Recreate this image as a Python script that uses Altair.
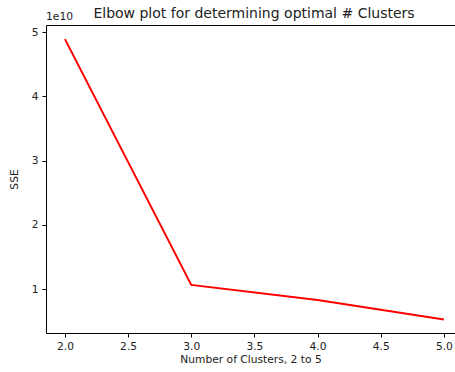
import altair as alt
import pandas as pd

clusters = [2, 3, 4, 5]
sse = [4.89e10, 1.065e10, 0.83e10, 0.525e10]

df = pd.DataFrame({"k": clusters, "sse": sse})

FONT = "DejaVu Sans"
FS = 10.7
xscale = alt.Scale(domain=[1.85, 5.088], nice=False, zero=False)
yscale = alt.Scale(domain=[0.316e10, 5.11e10], nice=False, zero=False)

base = alt.Chart(df)

line = base.mark_line(color="red", strokeWidth=2, clip=True).encode(
    x=alt.X("k:Q", scale=xscale,
            axis=alt.Axis(title="Number of Clusters, 2 to 5", values=[2, 2.5, 3, 3.5, 4, 4.5, 5],
                          format=".1f", grid=False, tickSize=4, tickColor="#000",
                          domainColor="#000", labelColor="#222", labelFontSize=FS,
                          titleFontSize=FS, titleFontWeight="normal", titleColor="#222",
                          labelPadding=4, titlePadding=4, labelFont=FONT, titleFont=FONT)),
    y=alt.Y("sse:Q", scale=yscale,
            axis=alt.Axis(title="SSE", values=[1e10, 2e10, 3e10, 4e10, 5e10],
                          labelExpr="datum.value / 1e10", grid=False, tickSize=4,
                          tickColor="#000", domainColor="#000", labelColor="#222",
                          labelFontSize=FS, titleFontSize=FS, titleFontWeight="normal",
                          titleColor="#222", labelPadding=4, titlePadding=12,
                          labelFont=FONT, titleFont=FONT)),
)

top = base.mark_point(opacity=0).encode(
    x=alt.X("k:Q", scale=xscale,
            axis=alt.Axis(orient="top", title=None, labels=False, ticks=False, grid=False,
                          domainColor="#000")),
)

exp = base.mark_text(text="1e10", align="left", baseline="bottom", font=FONT,
                     fontSize=FS, color="#222").encode(
    x=alt.value(0), y=alt.value(-3)
).transform_filter("datum.k == 2")

ttl = base.mark_text(text="Elbow plot for determining optimal # Clusters", align="center",
                     baseline="alphabetic", font=FONT, fontSize=14, color="#222").encode(
    x=alt.value(208), y=alt.value(-7)
).transform_filter("datum.k == 2")

chart = (line + top + exp + ttl).resolve_axis(x="independent").properties(
    width=409, height=308,
    autosize=alt.AutoSizeParams(type="none"),
    padding={"left": 46, "top": 25, "right": 0, "bottom": 39},
).configure_view(stroke=None)

chart.save("out.html", embed_options={"renderer": "svg", "actions": False})
